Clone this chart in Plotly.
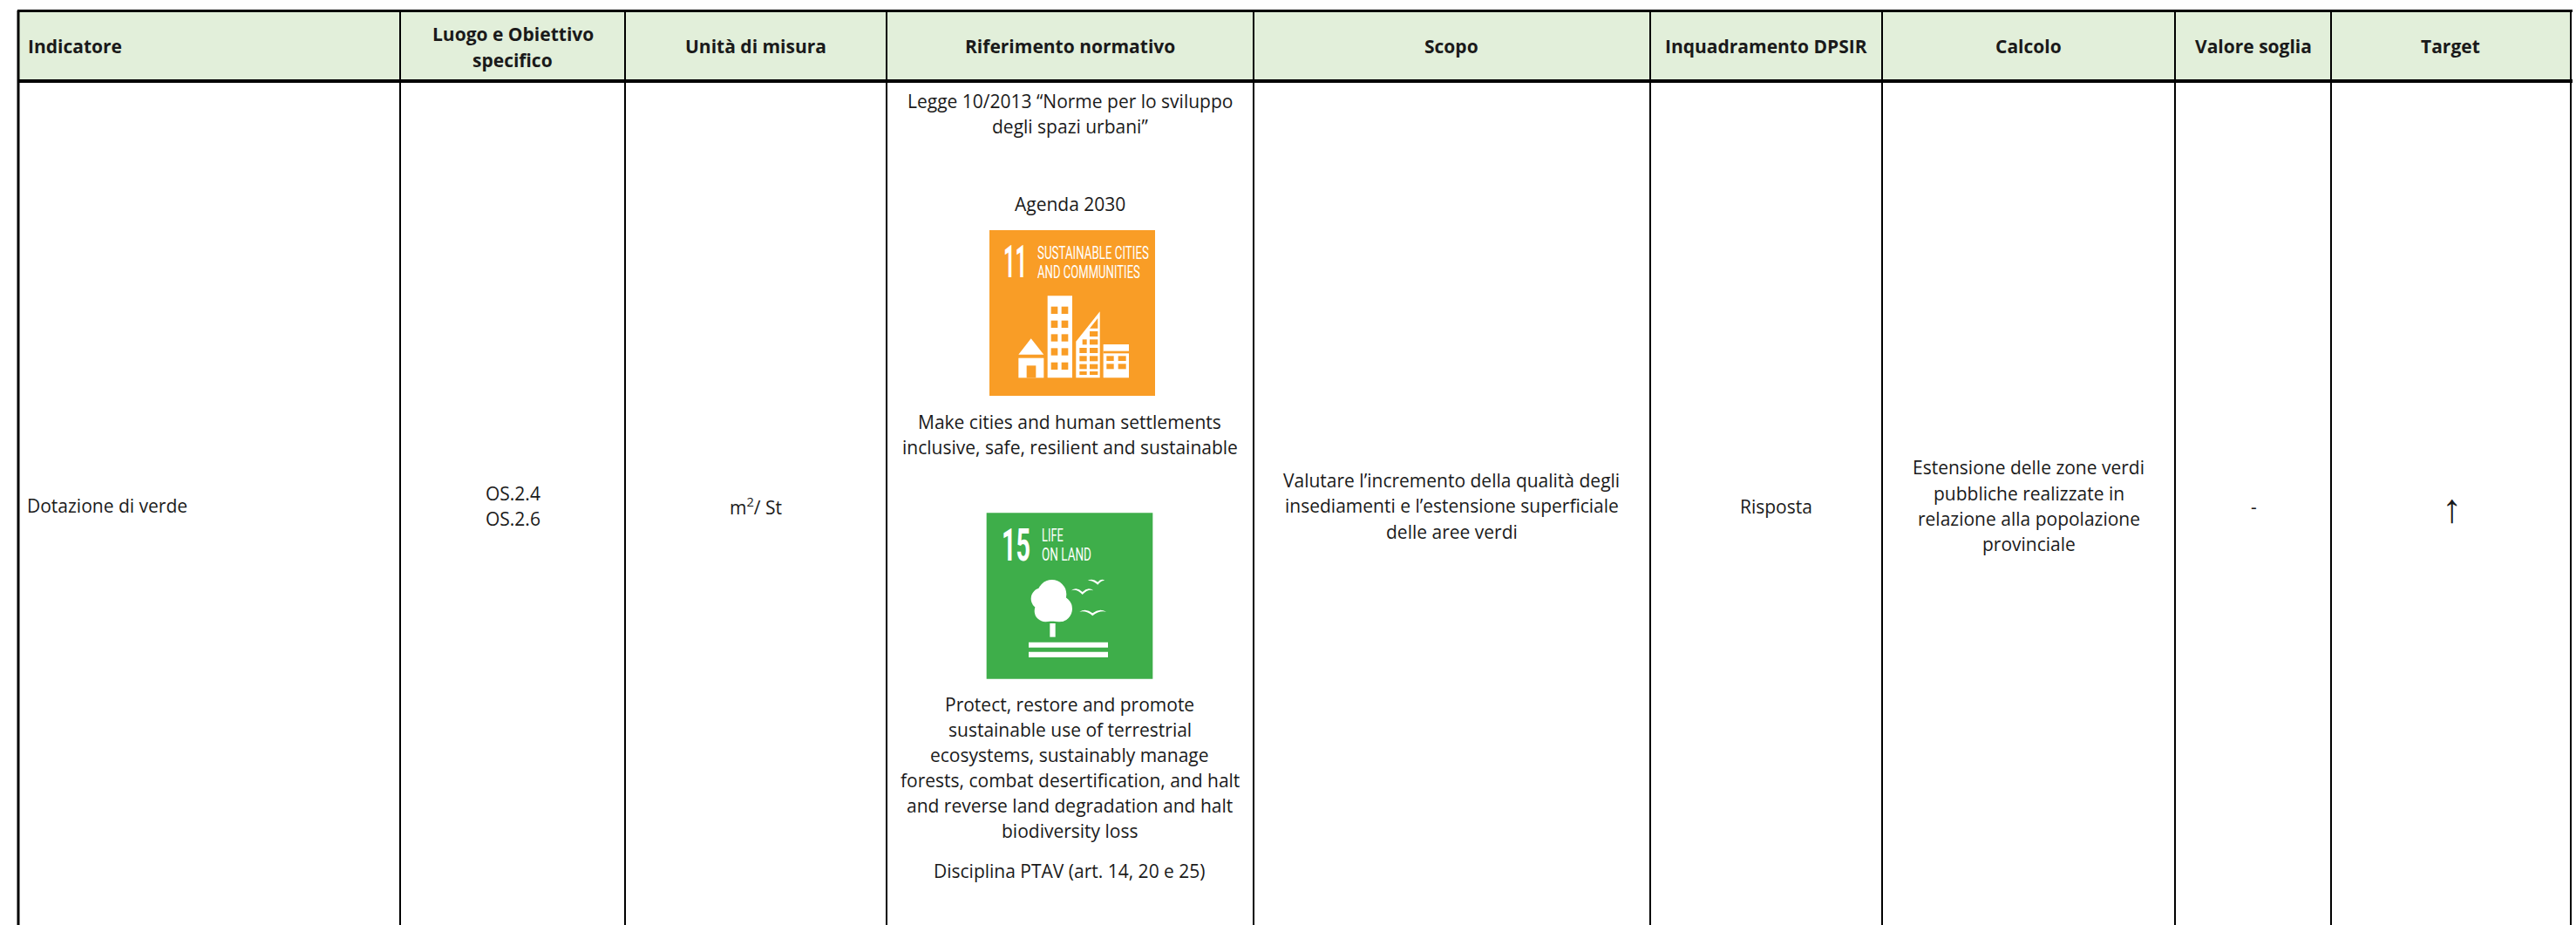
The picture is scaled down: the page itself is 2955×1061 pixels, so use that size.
import json
import plotly.graph_objects as go

W, H = 2955, 1061
FONT = "Open Sans"
INK = "#1a1a1a"

# ---------- table content ----------
headers = ["Indicatore", "Luogo e Obiettivo<br>specifico", "Unità di misura", "Riferimento normativo",
           "Scopo", "Inquadramento DPSIR", "Calcolo", "Valore soglia", "Target"]
header_x = [30, 588, 867, 1227, 1665, 2026, 2327, 2585, 2811]
column_edges = [21, 459, 717, 1017, 1438, 1893, 2159, 2495, 2674, 2949]

indicatore = ["Dotazione di verde"]
luogo = ["OS.2.4", "OS.2.6"]
unita = ["m<sup>2</sup>/ St"]
riferimento_a = ["Legge 10/2013 “Norme per lo sviluppo", "degli spazi urbani”"]
agenda = ["Agenda 2030"]
goal11_text = ["Make cities and human settlements", "inclusive, safe, resilient and sustainable"]
goal15_text = ["Protect, restore and promote", "sustainable use of terrestrial", "ecosystems, sustainably manage",
               "forests, combat desertification, and halt", "and reverse land degradation and halt",
               "biodiversity loss"]
disciplina = ["Disciplina PTAV (art. 14, 20 e 25)"]
scopo = ["Valutare l’incremento della qualità degli", "insediamenti e l’estensione superficiale",
         "delle aree verdi"]
dpsir = ["Risposta"]
calcolo = ["Estensione delle zone verdi", "pubbliche realizzate in", "relazione alla popolazione", "provinciale"]
soglia = ["-"]
target = ["↑"]

# icon captions are a condensed face in the reference: natural text squeezed to these widths
icon_caption_widths = {"11": 27, "15": 33, "SUSTAINABLE CITIES": 128, "AND COMMUNITIES": 118,
                       "LIFE": 25, "ON LAND": 57}

fig = go.Figure()
shapes, notes = [], []


def rect(x0, y0, x1, y1, fill):
    shapes.append(dict(type="rect", x0=x0, y0=y0, x1=x1, y1=y1, fillcolor=fill, line_width=0, layer="above"))


def line(x0, y0, x1, y1, w):
    shapes.append(dict(type="line", x0=x0, y0=y0, x1=x1, y1=y1, line=dict(color="black", width=w), layer="above"))


def text(x, y, s, size=21, bold=False, anchor="center", color=INK, family=FONT):
    notes.append(dict(x=x, y=y, text=f"<b>{s}</b>" if bold else s, showarrow=False, xanchor=anchor, yanchor="middle",
                      font=dict(family=family, size=size, color=color), align="center"))


def lines(x, ys, rows, **kw):
    for y, r in zip(ys, rows):
        text(x, y, r, **kw)


# header band + rules
rect(21, 13, 2949, 92, "#E2EFDA")
for x in column_edges:
    line(x, 12, x, H, 3 if x == 21 else 2)
line(20, 12.5, 2951, 12.5, 3)
line(20, 93, 2951, 93, 4)

for x, h in zip(header_x, headers):
    if "<br>" in h:
        a, b = h.split("<br>")
        text(x, 39, a, bold=True)
        text(x, 69, b, bold=True)
    else:
        text(x, 53, h, bold=True, anchor="left" if x == 30 else "center")

# body text
text(29, 580, indicatore[0], anchor="left")
lines(588, [566, 595], luogo)
text(867, 580, unita[0])
lines(1227, [116, 145], riferimento_a)
text(1227, 234, agenda[0])
lines(1227, [484, 513], goal11_text)
lines(1227, [808, 837, 866, 895, 924, 953], goal15_text)
text(1227, 999, disciplina[0])
lines(1665, [551, 580, 610], scopo)
text(2037, 581, dpsir[0])
lines(2327, [536, 566, 595, 624], calcolo)
text(2585, 581, soglia[0])
text(2812, 583, target[0], size=46, family="Liberation Serif")


# ---------- goal 11 icon ----------
OR = "#F99D26"
def zo(v): return 1100 + v / 3
def yo(v): return 250 + v / 3
def ro(a, b, c, d, fill="white"): rect(zo(a), yo(b), zo(c), yo(d), fill)
def po(pts, fill="white"):
    p = "M" + " L".join(f"{zo(a):.1f},{yo(b):.1f}" for a, b in pts) + " Z"
    shapes.append(dict(type="path", path=p, fillcolor=fill, line_width=0, layer="above"))

ro(105, 42, 675, 612, OR)
text(zo(148), yo(150), "11", size=52, bold=True, color="white", anchor="left", family="Roboto")
text(zo(265), yo(119), "SUSTAINABLE CITIES", size=20, color="white", anchor="left", family="Roboto")
text(zo(265), yo(186), "AND COMMUNITIES", size=20, color="white", anchor="left", family="Roboto")
po([(205, 470), (248, 415), (292, 470)])
ro(205, 482, 292, 550)
ro(233, 508, 265, 550, OR)
ro(305, 268, 390, 550)
for a, c in [(317, 340), (353, 376)]:
    for b, d in [(305, 330), (353, 378), (400, 425), (448, 473), (497, 522)]:
        ro(a, b, c, d, OR)
po([(403, 425), (485, 322), (485, 550), (403, 550)])
po([(478, 345), (478, 380), (450, 380)], OR)
for a, c in [(415, 440), (450, 478)]:
    for b, d in [(447, 465), (475, 493), (503, 520)]:
        ro(a, b, c, d, OR)
ro(450, 390, 478, 408, OR)
ro(450, 418, 478, 436, OR)
ro(425, 418, 440, 436, OR)
ro(415, 528, 440, 540, OR)
ro(450, 528, 478, 540, OR)
ro(497, 435, 585, 550)
ro(497, 458, 585, 466, OR)
for a, c in [(508, 533), (548, 575)]:
    for b, d in [(475, 492), (502, 520)]:
        ro(a, b, c, d, OR)


# ---------- goal 15 icon ----------
GR = "#3EAE4A"
def yg(v): return 570 + v / 3
def rg(a, b, c, d, fill="white"): rect(zo(a), yg(b), zo(c), yg(d), fill)
def cg(cx, cy, r):
    shapes.append(dict(type="circle", x0=zo(cx - r), y0=yg(cy - r), x1=zo(cx + r), y1=yg(cy + r),
                       fillcolor="white", line_width=0, layer="above"))
def bird(x0, xm, x1, ym, lift):
    p = (f"M{zo(x0):.1f},{yg(ym):.1f} Q{zo((x0 + xm) / 2):.1f},{yg(ym - lift):.1f} {zo(xm):.1f},{yg(ym + 5):.1f} "
         f"Q{zo((xm + x1) / 2):.1f},{yg(ym - lift):.1f} {zo(x1):.1f},{yg(ym):.1f} "
         f"Q{zo((xm + x1) / 2):.1f},{yg(ym - lift + 8):.1f} {zo(xm):.1f},{yg(ym + 14):.1f} "
         f"Q{zo((x0 + xm) / 2):.1f},{yg(ym - lift + 8):.1f} {zo(x0):.1f},{yg(ym):.1f} Z")
    shapes.append(dict(type="path", path=p, fillcolor="white", line_width=0, layer="above"))

rg(95, 55, 667, 626, GR)
text(zo(140), yg(165), "15", size=52, bold=True, color="white", anchor="left", family="Roboto")
text(zo(278), yg(133), "LIFE", size=21, color="white", anchor="left", family="Roboto")
text(zo(278), yg(198), "ON LAND", size=21, color="white", anchor="left", family="Roboto")
cg(320, 335, 50)
cg(285, 350, 37)
cg(345, 385, 45)
cg(298, 392, 38)
rg(290, 380, 360, 428)
rg(313, 435, 332, 482)
rg(240, 500, 513, 518)
rg(240, 533, 513, 552)
bird(387, 425, 463, 322, 14)
bird(443, 478, 502, 288, 10)
bird(415, 460, 507, 395, 14)

fig.update_layout(
    width=W, height=H, margin=dict(l=0, r=0, t=0, b=0),
    paper_bgcolor="white", plot_bgcolor="white", showlegend=False,
    xaxis=dict(range=[0, W], visible=False, fixedrange=True),
    yaxis=dict(range=[H, 0], visible=False, fixedrange=True),
    shapes=shapes, annotations=notes,
)
squeeze = "var widths=" + json.dumps(icon_caption_widths) + ";" + """
document.body.style.margin='0';
document.querySelectorAll('.annotation-text').forEach(function(t){
  var w = widths[t.textContent];
  if (w) {
    var b = t.getBBox(), k = w / b.width;
    t.setAttribute('transform', 'translate(' + b.x + ',0) scale(' + k + ',1) translate(' + (-b.x) + ',0)');
  }
});
"""
fig.write_html("out.html", post_script=squeeze, config={"displayModeBar": False})
